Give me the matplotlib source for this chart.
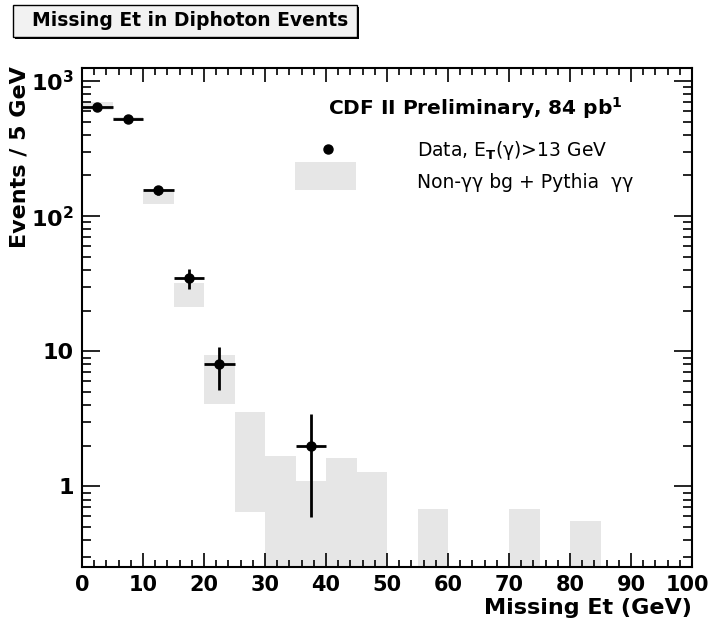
import numpy as np
import matplotlib
matplotlib.use("Agg")
import matplotlib.pyplot as plt
import matplotlib.transforms as mtransforms
from matplotlib.patches import Rectangle
from matplotlib.ticker import FixedLocator, MultipleLocator, LogLocator, NullFormatter

plt.rcParams['font.family'] = ['DejaVu Sans']
plt.rcParams['mathtext.fontset'] = 'custom'
plt.rcParams['mathtext.rm'] = 'DejaVu Sans'
plt.rcParams['mathtext.bf'] = 'DejaVu Sans:bold'
plt.rcParams['mathtext.it'] = 'DejaVu Sans:italic'

# Missing Et bins (GeV), 5 GeV wide
bin_centers = [2.5, 7.5, 12.5, 17.5, 22.5, 27.5, 32.5, 37.5, 42.5, 47.5,
               52.5, 57.5, 62.5, 67.5, 72.5, 77.5, 82.5, 87.5, 92.5, 97.5]
bin_width = 5.0

# Data (events / 5 GeV) with Poisson error bars
data_x = [2.5, 7.5, 12.5, 17.5, 22.5, 37.5]
data_y = [646, 528, 155, 35, 8, 2]
data_err_lo = [25.4, 23.0, 12.4, 5.9, 2.8, 1.41]
data_err_hi = [25.4, 23.0, 12.4, 5.9, 2.8, 1.41]

# Background prediction band (lower / upper edge per bin, 0 = empty bin)
bg_lo = [609, 505, 123, 21.3, 4.1, 0.646, 0.01, 0.01, 0.01, 0.01,
         0, 0.01, 0, 0, 0.01, 0, 0.01, 0, 0, 0]
bg_hi = [699, 545, 152, 32.1, 9.4, 3.53, 1.69, 1.10, 1.62, 1.27,
         0, 0.68, 0, 0, 0.68, 0, 0.557, 0, 0, 0]

x_major = [0, 10, 20, 30, 40, 50, 60, 70, 80, 90, 100]
y_major = [1, 10, 100, 1000]
y_labels = ["1", "10", r"$\mathbf{10^{2}}$", r"$\mathbf{10^{3}}$"]

W, H = 712, 625
fig = plt.figure(figsize=(W / 100, H / 100), dpi=100)

def px_box(x0, y0, x1, y1):
    return [x0 / W, 1 - y1 / H, (x1 - x0) / W, (y1 - y0) / H]

ax = fig.add_axes(px_box(82, 68.3, 692, 566.7))

band_color = "#e6e6e6"
for xc, lo, hi in zip(bin_centers, bg_lo, bg_hi):
    if hi <= 0:
        continue
    ax.bar(xc, hi - lo, bottom=lo, width=bin_width, color=band_color,
           edgecolor="none", zorder=1)

ax.errorbar(data_x, data_y, xerr=bin_width / 2, yerr=[data_err_lo, data_err_hi],
            fmt="o", color="black", ms=6.5, elinewidth=2.0, capsize=0, zorder=3)

ax.set_yscale("log")
ax.set_xlim(0, 100)
ax.set_ylim(0.255, 1242)

ax.xaxis.set_major_locator(FixedLocator(x_major))
ax.xaxis.set_minor_locator(MultipleLocator(2))
ax.set_xticklabels([str(v) for v in x_major])
ax.yaxis.set_major_locator(FixedLocator(y_major))
ax.set_yticklabels(y_labels)
ax.yaxis.set_minor_locator(LogLocator(base=10, subs=np.arange(2, 10)))
ax.yaxis.set_minor_formatter(NullFormatter())

ax.tick_params(axis="both", which="both", direction="in", top=True, right=True,
               width=1.2, colors="black")
ax.tick_params(axis="x", which="major", length=10, labelsize=15, pad=6)
ax.tick_params(axis="x", which="minor", length=5)
ax.tick_params(axis="y", which="major", length=13, labelsize=16, pad=6)
ax.tick_params(axis="y", which="minor", length=6.5)
for lab in ax.get_xticklabels() + ax.get_yticklabels():
    lab.set_fontweight("bold")
# keep the last x label inside the canvas
last = ax.get_xticklabels()[-1]
last.set_transform(last.get_transform() +
                   mtransforms.ScaledTranslation(-5 / 100, 0, fig.dpi_scale_trans))
for sp in ax.spines.values():
    sp.set_linewidth(1.5)

ax.text(1.0, -0.083, "Missing Et (GeV)", transform=ax.transAxes, ha="right",
        va="center", fontsize=16, fontweight="bold")
fig.text(20 / W, 1 - 66 / H, "Events / 5 GeV", rotation=90, ha="center",
         va="top", fontsize=16, fontweight="bold")

# Annotation and legend
ax.text(0.403, 0.920, r"CDF II Preliminary, 84 pb$^{\mathbf{1}}$",
        transform=ax.transAxes, ha="left", va="center", fontsize=14.5,
        fontweight="bold")
ax.plot([0.403], [0.8375], "o", color="black", ms=6.5, transform=ax.transAxes)
ax.add_patch(Rectangle((0.349, 0.756), 0.100, 0.055, transform=ax.transAxes,
                       facecolor=band_color, edgecolor="none"))
ax.text(0.549, 0.836, r"Data, E$_{\mathbf{T}}$(γ)>13 GeV", transform=ax.transAxes,
        ha="left", va="center", fontsize=13.5)
ax.text(0.549, 0.770, "Non-γγ bg + Pythia  γγ", transform=ax.transAxes,
        ha="left", va="center", fontsize=13.5)

# Title box with drop shadow
fig.patches.append(Rectangle((15 / W, 1 - 39 / H), 344 / W, 32 / H,
                             transform=fig.transFigure, facecolor="black",
                             edgecolor="none"))
fig.patches.append(Rectangle((13 / W, 1 - 37 / H), 344 / W, 32 / H,
                             transform=fig.transFigure, facecolor="#f2f2f2",
                             edgecolor="black", linewidth=1.0))
fig.text(190 / W, 1 - 21 / H, "Missing Et in Diphoton Events", ha="center",
         va="center", fontsize=13.5, fontweight="bold")

fig.savefig("out.png", dpi=100)
